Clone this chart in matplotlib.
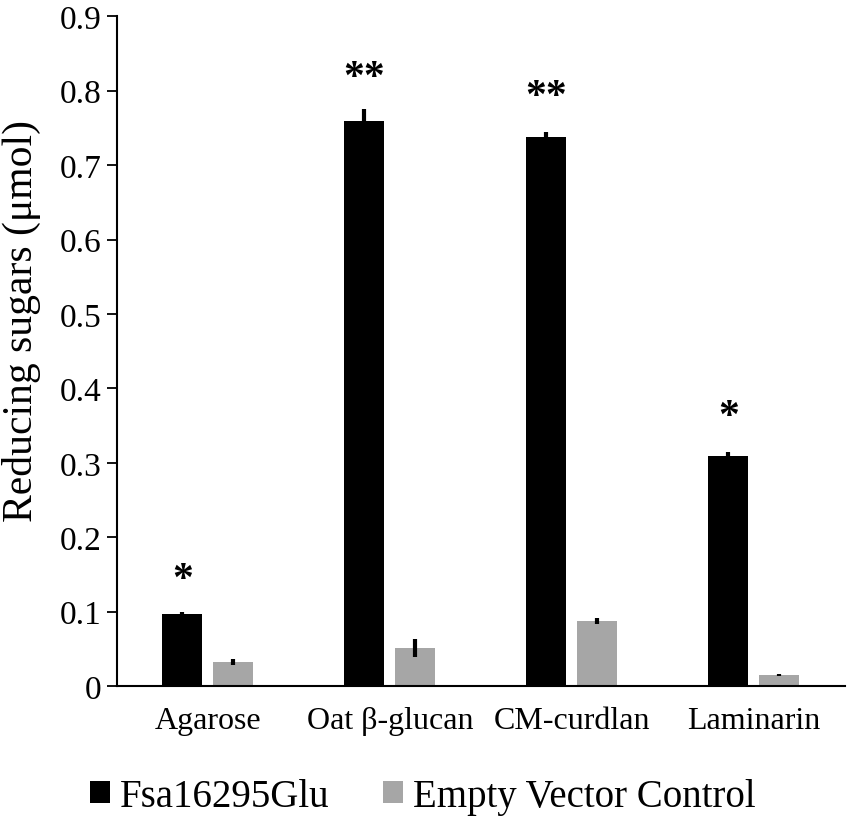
import matplotlib
matplotlib.use("Agg")
import matplotlib.pyplot as plt
import numpy as np

plt.rcParams["font.family"] = ["Liberation Serif", "DejaVu Serif"]

substrates = ["Agarose", "Oat \u03b2-glucan", "CM-curdlan", "Laminarin"]
enzyme = [0.097, 0.759, 0.738, 0.309]
enzyme_err = [0.002, 0.016, 0.007, 0.005]
control = [0.032, 0.051, 0.088, 0.015]
control_err = [0.004, 0.012, 0.004, 0.0015]
marks = ["*", "**", "**", "*"]
mark_y = [0.142, 0.817, 0.792, 0.362]

fig = plt.figure(figsize=(8.5, 8.2), dpi=100)
ax = fig.add_axes([0.1376, 0.162, 0.8564, 0.817])

x = np.arange(len(substrates))
w = 0.22
off = 0.14
ax.bar(x - off, enzyme, w, color="black", label="Fsa16295Glu")
ax.bar(x + off, control, w, color="#a6a6a6", label="Empty Vector Control")
ax.errorbar(x - off, enzyme, yerr=enzyme_err, fmt="none", ecolor="black",
            elinewidth=3, capsize=0)
ax.errorbar(x + off, control, yerr=control_err, fmt="none", ecolor="black",
            elinewidth=3, capsize=0)
for xi, m, my in zip(x, marks, mark_y):
    ax.text(xi - off, my, m, ha="center", va="center", fontsize=30,
            fontweight="bold")

ax.set_xlim(-0.5, 3.5)
ax.set_ylim(0, 0.9)
ax.set_yticks(np.arange(0, 0.91, 0.1))
ax.set_yticklabels(["0"] + [f"{v:.1f}" for v in np.arange(0.1, 0.91, 0.1)])
ax.set_xticks(x)
ax.set_xticklabels(substrates)
ax.tick_params(axis="y", labelsize=24, length=7, width=1.3, direction="out", pad=4)
ax.tick_params(axis="x", labelsize=23, length=0, pad=14)
ax.set_ylabel("Reducing sugars (\u03bcmol)", fontsize=30)
ax.yaxis.set_label_coords(-0.104, 0.546)
for s in ["top", "right"]:
    ax.spines[s].set_visible(False)
for s in ["left", "bottom"]:
    ax.spines[s].set_linewidth(1.5)

ax.legend(loc="center", bbox_to_anchor=(0.42, -0.165), ncol=2, frameon=False,
          fontsize=28, handlelength=0.5, handleheight=0.5, handletextpad=0.25,
          columnspacing=1.4, borderpad=0.2)

fig.savefig("out.png", dpi=100)
